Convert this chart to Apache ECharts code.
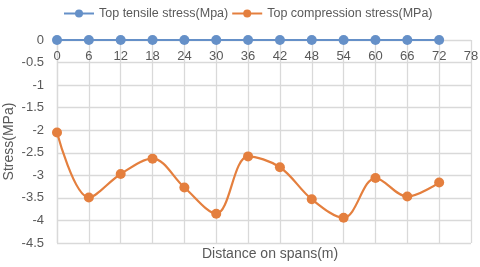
<!DOCTYPE html>
<html><head><meta charset="utf-8">
<script src="https://cdn.jsdelivr.net/npm/echarts@6/dist/echarts.min.js"></script>
<style>html,body{margin:0;padding:0;background:#fff}#c{width:480px;height:267px}</style>
</head><body><div id="c"></div>
<script>
const distances = [0, 6, 12, 18, 24, 30, 36, 42, 48, 54, 60, 66, 72];
const tensile = [0, 0, 0, 0, 0, 0, 0, 0, 0, 0, 0, 0, 0];
const compression = [-2.05, -3.49, -2.97, -2.63, -3.27, -3.85, -2.58, -2.82, -3.53, -3.94, -3.06, -3.47, -3.16];
const seriesNames = ['Top tensile stress(Mpa)', 'Top compression stress(MPa)'];
const xTitle = 'Distance on spans(m)';
const yTitle = 'Stress(MPa)';

const FONT = 'Liberation Sans';
const TXT = '#595959';
const GRID = '#d9d9d9';
const chart = echarts.init(document.getElementById('c'), null, {renderer: 'canvas'});
chart.setOption({
  animation: false,
  textStyle: {fontFamily: FONT},
  legend: {
    top: 7, left: 63, itemWidth: 30, itemHeight: 10, itemGap: 3, padding: 0,
    textStyle: {fontFamily: FONT, fontSize: 12.5, color: TXT},
    data: seriesNames
  },
  grid: {left: 57, right: 9, top: 40, bottom: 24, containLabel: false, outerBoundsMode: 'none'},
  graphic: [{
    type: 'text', left: 270 - 68, top: 247,
    style: {text: xTitle, font: '14px "Liberation Sans"', fill: TXT}
  }],
  xAxis: {
    type: 'value', min: 0, max: 78, interval: 6, position: 'top',
    axisLine: {show: false}, axisTick: {show: false},
    axisLabel: {inside: true, margin: 10, fontSize: 13, color: TXT, fontFamily: FONT},
    splitLine: {show: true, lineStyle: {color: GRID, width: 1.3}}
  },
  yAxis: {
    type: 'value', min: -4.5, max: 0, interval: 0.5,
    name: yTitle, nameLocation: 'middle', nameGap: 41, nameRotate: 90, nameMoveOverlap: false,
    nameTextStyle: {fontSize: 14, color: TXT, fontFamily: FONT},
    axisLine: {show: true, lineStyle: {color: GRID, width: 1.3}}, axisTick: {show: false},
    axisLabel: {margin: 13, fontSize: 13, color: TXT, fontFamily: FONT},
    splitLine: {show: true, lineStyle: {color: GRID, width: 1.3}}
  },
  series: [
    {
      name: seriesNames[0], type: 'line', data: distances.map((d, i) => [d, tensile[i]]),
      symbol: 'circle', symbolSize: 10, smooth: 0.35,
      lineStyle: {color: '#6590c8', width: 2}, itemStyle: {color: '#6590c8'}, z: 3
    },
    {
      name: seriesNames[1], type: 'line', data: distances.map((d, i) => [d, compression[i]]),
      symbol: 'circle', symbolSize: 10, smooth: 0.35,
      lineStyle: {color: '#e47f3e', width: 2.2}, itemStyle: {color: '#e47f3e'}, z: 4
    }
  ]
});
</script></body></html>
